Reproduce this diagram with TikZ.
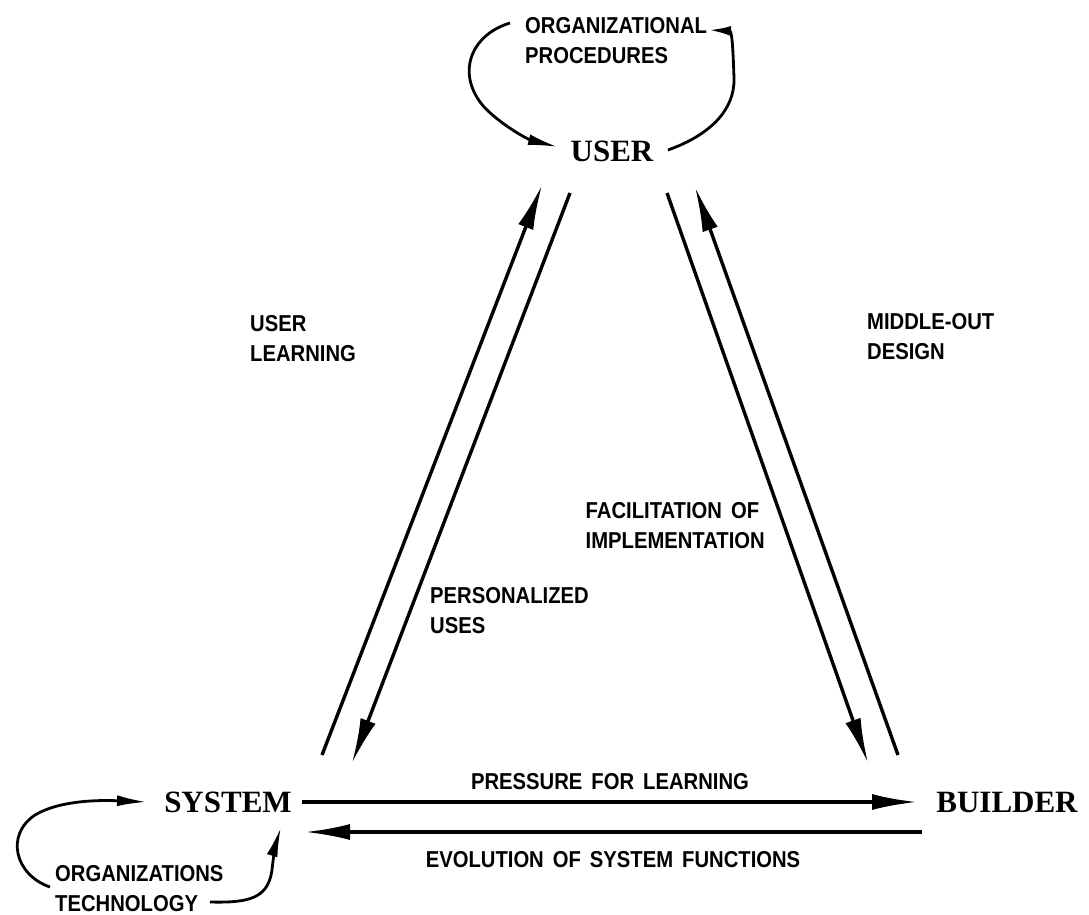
\documentclass[tikz,border=0pt]{standalone}
\usepackage{fontspec}
\setmainfont{Liberation Sans}
\newfontfamily\labfont[FakeStretch=0.88,WordSpace=1.6]{Liberation Sans}
\newfontfamily\actorfont{Liberation Serif}
\usetikzlibrary{arrows.meta}
\begin{document}
\begin{tikzpicture}[x=1pt,y=-1pt,
  actor/.style={font=\actorfont\bfseries\fontsize{31}{31}\selectfont, inner sep=0pt, anchor=base},
  lab/.style={font=\labfont\bfseries\fontsize{23}{30}\selectfont, align=left, inner sep=0pt},
  bigarrow/.style={line width=3.4pt, -{Latex[length=45pt,width=16pt]}},
  looparrow/.style={line width=2.8pt, -{Latex[length=30pt,width=11pt]}}]
\useasboundingbox (0,0) rectangle (1089,915);

% actors
\node[actor] (user) at (612,161) {USER};
\node[actor] (system) at (228,812) {SYSTEM};
\node[actor] (builder) at (1007,812) {BUILDER};

% labels
\node[lab, anchor=north west] (orgproc) at (525,17) {ORGANIZATIONAL\\PROCEDURES};
\node[lab, anchor=north west] (userlearn) at (250,315) {USER\\LEARNING};
\node[lab, anchor=north west] (midout) at (867,313) {MIDDLE-OUT\\DESIGN};
\node[lab, anchor=north east] (facil) at (765,502) {FACILITATION OF\\IMPLEMENTATION};
\node[lab, anchor=north west] (persuse) at (430,587) {PERSONALIZED\\USES};
\node[lab, anchor=north west] (orgtech) at (55,865) {ORGANIZATIONS\\TECHNOLOGY};
\node[lab, anchor=base] (pressure) at (610,789) {PRESSURE FOR LEARNING};
\node[lab, anchor=base] (evolution) at (613,867) {EVOLUTION OF SYSTEM FUNCTIONS};

% connector end points
\coordinate (sysUL) at (322,755);  \coordinate (userUL) at (542,185);
\coordinate (userPU) at (570,193); \coordinate (sysPU) at (352,763);
\coordinate (userFI) at (667,193); \coordinate (bldFI) at (868,763);
\coordinate (bldMO) at (898,755);  \coordinate (userMO) at (695,187);
\coordinate (sysPL) at (302,802);  \coordinate (bldPL) at (917,802);
\coordinate (bldEV) at (922,832);  \coordinate (sysEV) at (305,832);
\coordinate (opL) at (510,23);     \coordinate (userL) at (558,147);
\coordinate (userR) at (668,150);  \coordinate (opR) at (709,30);
\coordinate (otL) at (50,887);     \coordinate (sysL) at (147,802);
\coordinate (otR) at (210,902);    \coordinate (sysB) at (281,827);

% main arrows
\draw[bigarrow] (sysUL) -- (userUL);
\draw[bigarrow] (userPU) -- (sysPU);
\draw[bigarrow] (userFI) -- (bldFI);
\draw[bigarrow] (bldMO) -- (userMO);
\draw[bigarrow] (sysPL) -- (bldPL);
\draw[bigarrow] (bldEV) -- (sysEV);

% loops
\draw[looparrow] (opL) .. controls (470,35) and (455,75) .. (485,108)
                      .. controls (505,128) and (530,140) .. (userL);
\draw[looparrow, -{Latex[length=22pt,width=10pt]}] (userR) .. controls (710,135) and (735,110) .. (734,78)
                      .. controls (733,48) and (732,31) .. (opR);
\draw[looparrow] (otL) .. controls (15,875) and (5,835) .. (35,815)
                      .. controls (60,800) and (100,800) .. (sysL);
\draw[looparrow] (otR) .. controls (250,903) and (268,898) .. (272,870)
                      .. controls (274,850) and (277,840) .. (sysB);
\end{tikzpicture}
\end{document}
